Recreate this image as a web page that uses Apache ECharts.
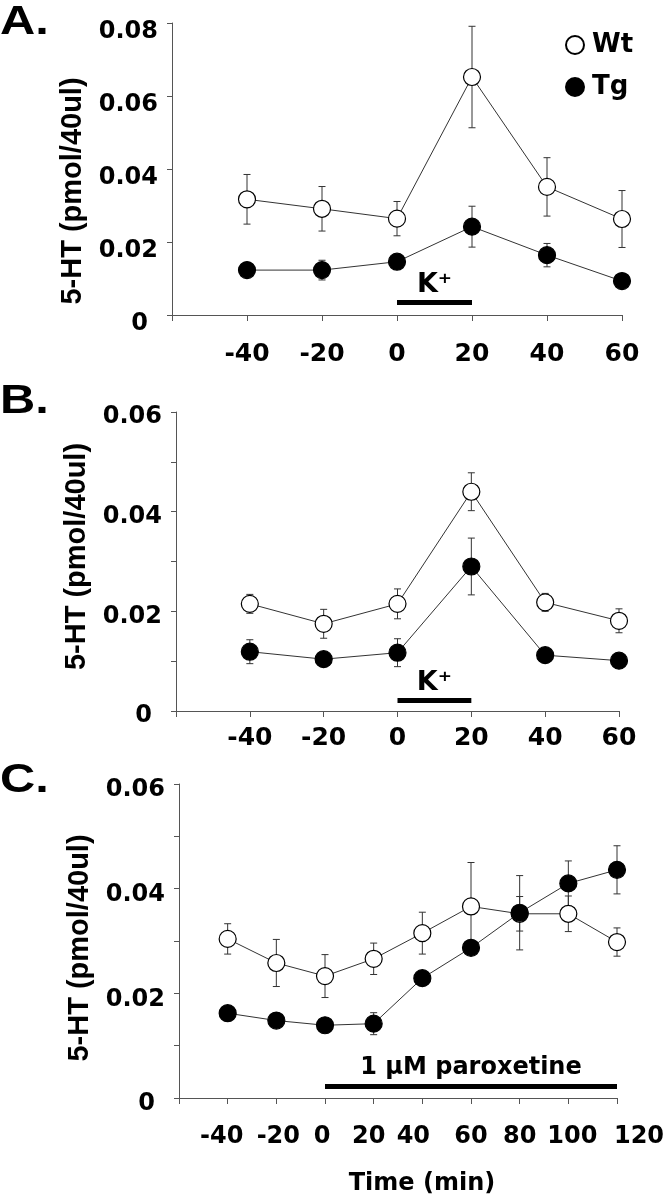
<!DOCTYPE html>
<html><head><meta charset="utf-8">
<script src="https://cdn.jsdelivr.net/npm/echarts@6/dist/echarts.min.js"></script>
<style>html,body{margin:0;padding:0;background:#fff}#c{width:668px;height:1199px}</style>
</head><body><div id="c"></div>
<script>
// ---------------- data ----------------
const seriesNames = ['Wt', 'Tg'];
const timesAB = [-40, -20, 0, 20, 40, 60];
const timesC = [-40, -20, 0, 20, 40, 60, 80, 100, 120];
const yTitle = '5-HT (pmol/40ul)';
const xTitle = 'Time (min)';

// Panel A
const aWt    = [0.0317, 0.0291, 0.0264, 0.0652, 0.0351, 0.0263];
const aWtErr = [0.0068, 0.0061, 0.0047, 0.0139, 0.0080, 0.0078];
const aTg    = [0.0123, 0.0123, 0.0146, 0.0242, 0.0164, 0.0093];
const aTgErr = [0.0010, 0.0027, 0.0010, 0.0056, 0.0032, 0.0008];
// Panel B
const bWt    = [0.0215, 0.0175, 0.0215, 0.0440, 0.0218, 0.0181];
const bWtErr = [0.0019, 0.0029, 0.0030, 0.0038, 0.0018, 0.0024];
const bTg    = [0.0119, 0.0104, 0.0117, 0.0290, 0.0112, 0.0101];
const bTgErr = [0.0024, 0.0008, 0.0028, 0.0057, 0.0008, 0.0008];
// Panel C
const cWt    = [0.0304, 0.0258, 0.0233, 0.0266, 0.0315, 0.0366, 0.0352, 0.0352, 0.0298];
const cWtErr = [0.0029, 0.0045, 0.0041, 0.0030, 0.0040, 0.0084, 0.0033, 0.0034, 0.0027];
const cTg    = [0.0162, 0.0148, 0.0139, 0.0142, 0.0229, 0.0287, 0.0354, 0.0410, 0.0436];
const cTgErr = [0.0008, 0.0008, 0.0008, 0.0021, 0.0008, 0.0008, 0.0071, 0.0043, 0.0046];

// treatment bars [start, end, level, label]
const kBarA = [0, 20, 0.0034, 'K\u207A'];
const kBarB = [0, 20, 0.0021, 'K\u207A'];
const paroxBarC = [0, 120, 0.0022, '1 \u00B5M paroxetine'];

const panelLetters = ['A.', 'B.', 'C.'];

// ---------------- styling ----------------
const F_NUM = "'DejaVu Sans', sans-serif";
const F_TTL = "'Liberation Sans', Arial, sans-serif";
const AXC = '#555';
// horizontal nudges (px) of panel C tick labels, as placed in the original figure
const cLabelNudge = {'-40': -6, '-20': 2, '0': -3, '20': -5, '40': -9, '60': 0, '80': 0, '100': 4, '120': 22};

const grids = [
  {left: 172, top: 23, width: 450, height: 292, outerBoundsMode: 'none'},
  {left: 176, top: 412, width: 443, height: 299, outerBoundsMode: 'none'},
  {left: 179, top: 784, width: 438, height: 314, outerBoundsMode: 'none'}
];

function xAx(gi, max, margin, fontSize, nudge, withName) {
  const lab = {margin: margin, fontFamily: F_NUM, fontWeight: 'bold', fontSize: fontSize, color: '#000',
    showMaxLabel: true, showMinLabel: true, hideOverlap: false,
    formatter: v => (v === -60 ? '' : String(v))};
  if (nudge) {
    const rich = {};
    Object.keys(nudge).forEach((k, i) => {
      const s = nudge[k];
      rich['n' + i] = {fontFamily: F_NUM, fontWeight: 'bold', fontSize: fontSize, color: '#000',
        padding: s >= 0 ? [0, 0, 0, 2 * s] : [0, -2 * s, 0, 0]};
    });
    const keys = Object.keys(nudge);
    lab.rich = rich;
    lab.formatter = v => {
      if (v === -60) return '';
      const i = keys.indexOf(String(v));
      return i < 0 ? String(v) : '{n' + i + '|' + v + '}';
    };
  }
  const ax = {
    type: 'value', gridIndex: gi, min: -60, max: max, interval: 20,
    axisLine: {onZero: false, lineStyle: {color: AXC, width: 1}},
    axisTick: {show: true, length: 6, lineStyle: {color: AXC}},
    splitLine: {show: false},
    axisLabel: lab
  };
  if (withName) {
    ax.name = xTitle; ax.nameLocation = 'middle'; ax.nameGap = 74;
    ax.nameTextStyle = {fontFamily: F_NUM, fontWeight: 'bold', fontSize: 24, color: '#000', padding: [0, 0, 0, 48]};
  }
  return ax;
}
function yAx(gi, max, interval, shift, namePad) {
  return {
    type: 'value', gridIndex: gi, min: 0, max: max, interval: interval,
    axisLine: {show: true, onZero: false, lineStyle: {color: AXC, width: 1}},
    axisTick: {show: true, length: 5, lineStyle: {color: AXC}},
    splitLine: {show: false},
    axisLabel: {margin: 14, fontFamily: F_NUM, fontWeight: 'bold', fontSize: 24, color: '#000',
      padding: [shift * 2, 0, 0, 0],
      formatter: v => {
        if (v === 0) return '{z|0}';
        const k = Math.round(v * 100);
        return k % 2 === 0 ? v.toFixed(2) : '';
      },
      rich: {z: {fontFamily: F_NUM, fontWeight: 'bold', fontSize: 24, color: '#000', padding: [0, 10, 0, 0]}}
    },
    name: yTitle, nameLocation: 'middle', nameRotate: 90, nameGap: 80,
    nameTextStyle: {fontFamily: F_TTL, fontWeight: 'bold', fontSize: 29, color: '#000', padding: namePad}
  };
}

function renderErr(params, api) {
  const x = api.value(0), y = api.value(1), e = api.value(2);
  const top = api.coord([x, y + e]);
  const bot = api.coord([x, y - e]);
  const hw = 3.5;
  const st = {stroke: '#333', lineWidth: 1};
  return {type: 'group', children: [
    {type: 'line', shape: {x1: top[0], y1: top[1], x2: bot[0], y2: bot[1]}, style: st},
    {type: 'line', shape: {x1: top[0] - hw, y1: top[1], x2: top[0] + hw, y2: top[1]}, style: st},
    {type: 'line', shape: {x1: bot[0] - hw, y1: bot[1], x2: bot[0] + hw, y2: bot[1]}, style: st}
  ]};
}
function errSeries(gi, xs, ys, es) {
  return {type: 'custom', xAxisIndex: gi, yAxisIndex: gi, z: 2, silent: true, animation: false,
    data: xs.map((x, i) => [x, ys[i], es[i]]), renderItem: renderErr};
}
function lineSeries(name, gi, xs, ys, filled) {
  return {name: name, type: 'line', xAxisIndex: gi, yAxisIndex: gi, z: filled ? 4 : 3,
    data: xs.map((x, i) => [x, ys[i]]), symbol: 'circle', symbolSize: 17, showAllSymbol: true,
    lineStyle: {color: '#333', width: 1},
    itemStyle: {color: filled ? '#000' : '#fff', borderColor: '#000', borderWidth: 1.2},
    emphasis: {disabled: true}, animation: false, silent: true};
}
function barSeries(gi, bar, fontFamily, fontSize, dist) {
  const [x0, x1, lvl, txt] = bar;
  return [
    {type: 'line', xAxisIndex: gi, yAxisIndex: gi, z: 5, silent: true, animation: false,
      data: [[x0, lvl], [x1, lvl]], symbol: 'none', lineStyle: {color: '#000', width: 5}},
    {type: 'scatter', xAxisIndex: gi, yAxisIndex: gi, z: 6, silent: true, animation: false,
      data: [[(x0 + x1) / 2, lvl]], symbolSize: 0, itemStyle: {color: '#000', opacity: 1},
      emphasis: {disabled: true},
      label: {show: true, position: 'top', distance: dist, formatter: txt, opacity: 1,
        fontFamily: fontFamily, fontWeight: 'bold', fontSize: fontSize, color: '#000',
        textBorderWidth: 0}}
  ];
}

const letterY = [22.5, 402, 781];
const option = {
  backgroundColor: '#fff',
  animation: false,
  grid: grids,
  xAxis: [xAx(0, 60, 27, 25, null, false), xAx(1, 60, 15, 25, null, false), xAx(2, 120, 27, 24, cLabelNudge, true)],
  yAxis: [yAx(0, 0.08, 0.02, 9, [0, 44, 0, 0]), yAx(1, 0.06, 0.01, 5, [0, 0, 0, 10]), yAx(2, 0.06, 0.01, 6, [0, 14, 0, 0])],
  legend: {data: seriesNames, orient: 'vertical', left: 560, top: 27, itemGap: 16, itemWidth: 18, itemHeight: 18,
    icon: 'circle', selectedMode: false,
    textStyle: {fontFamily: F_NUM, fontWeight: 'bold', fontSize: 26, color: '#000', padding: [0, 0, 0, 3]}},
  graphic: panelLetters.map((t, i) => ({
    type: 'text', x: 0, y: letterY[i], scaleX: 1.22, silent: true,
    style: {text: t, font: "bold 40px 'Liberation Sans', Arial, sans-serif", fill: '#000',
      verticalAlign: 'middle', textVerticalAlign: 'middle'}
  })),
  series: [
    errSeries(0, timesAB, aWt, aWtErr), errSeries(0, timesAB, aTg, aTgErr),
    lineSeries(seriesNames[0], 0, timesAB, aWt, false), lineSeries(seriesNames[1], 0, timesAB, aTg, true),
    ...barSeries(0, kBarA, F_NUM, 27, 4),
    errSeries(1, timesAB, bWt, bWtErr), errSeries(1, timesAB, bTg, bTgErr),
    lineSeries(seriesNames[0], 1, timesAB, bWt, false), lineSeries(seriesNames[1], 1, timesAB, bTg, true),
    ...barSeries(1, kBarB, F_NUM, 27, 4),
    errSeries(2, timesC, cWt, cWtErr), errSeries(2, timesC, cTg, cTgErr),
    lineSeries(seriesNames[0], 2, timesC, cWt, false), lineSeries(seriesNames[1], 2, timesC, cTg, true),
    ...barSeries(2, paroxBarC, F_NUM, 24, 7)
  ]
};
const chart = echarts.init(document.getElementById('c'), null, {renderer: 'canvas'});
chart.setOption(option);
</script>
</body></html>
